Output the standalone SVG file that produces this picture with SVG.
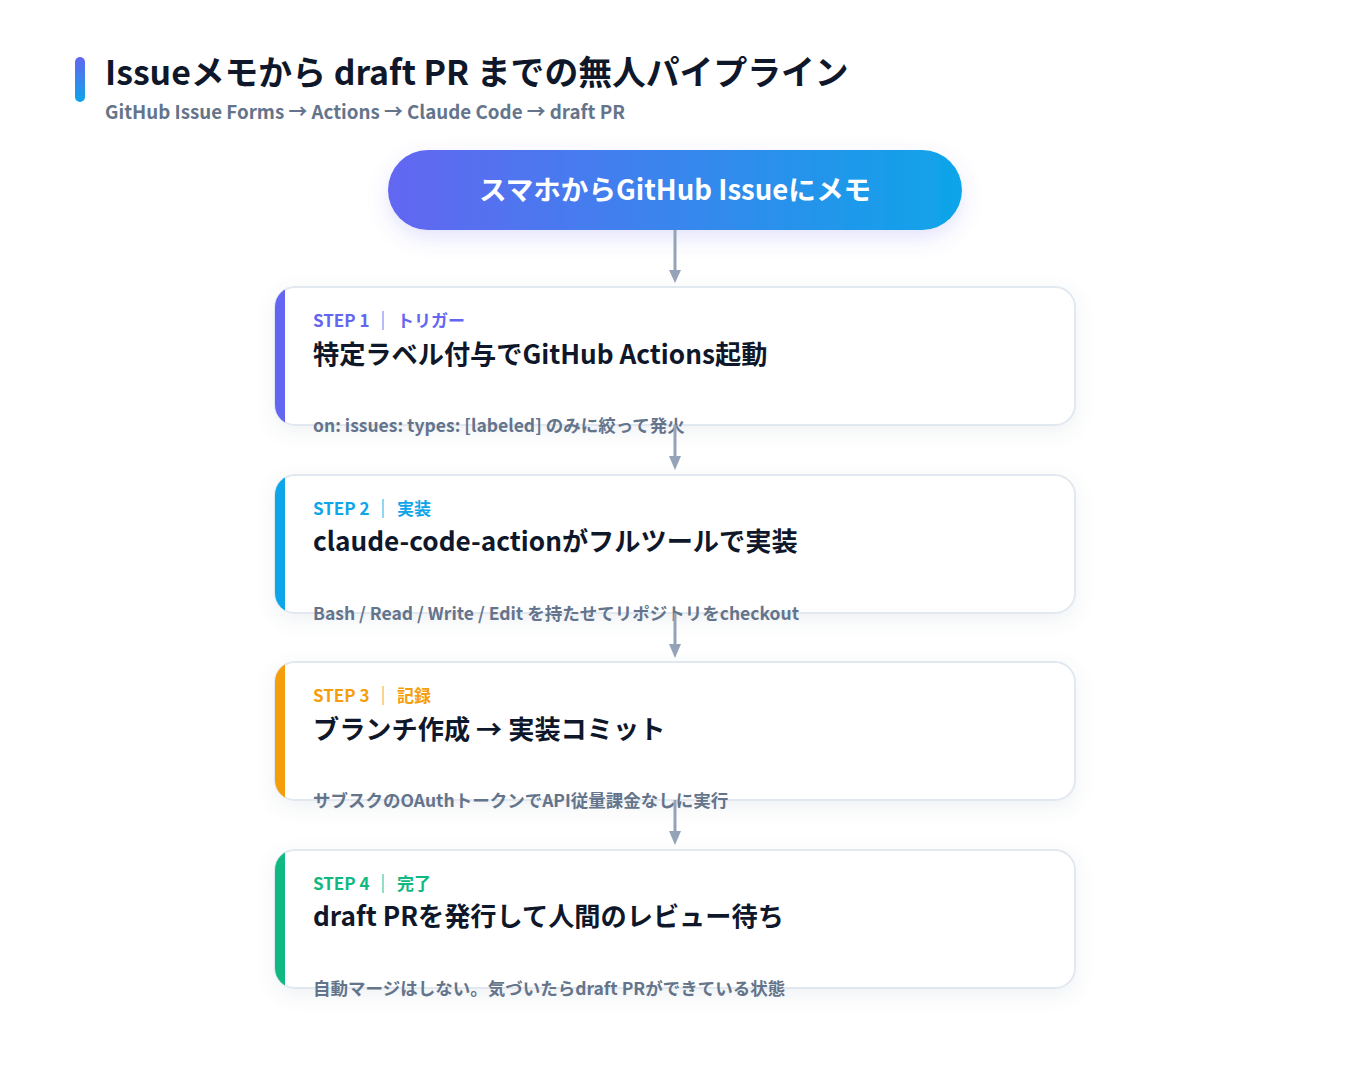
<svg xmlns="http://www.w3.org/2000/svg" width="1350" height="1087" viewBox="0 0 1350 1087">
<defs>
<linearGradient id="g" x1="0" y1="0" x2="1" y2="0"><stop offset="0" stop-color="#6366f1"/><stop offset="1" stop-color="#0ea5e9"/></linearGradient>
<linearGradient id="gv" x1="0" y1="0" x2="0" y2="1"><stop offset="0" stop-color="#6366f1"/><stop offset="1" stop-color="#0ea5e9"/></linearGradient>
<filter id="sh" x="-10%" y="-20%" width="120%" height="150%"><feDropShadow dx="0" dy="6" stdDeviation="9" flood-color="#64748b" flood-opacity="0.10"/></filter>
<filter id="sh2" x="-10%" y="-30%" width="120%" height="170%"><feDropShadow dx="0" dy="8" stdDeviation="10" flood-color="#6366f1" flood-opacity="0.18"/></filter>
<clipPath id="c1"><rect x="275" y="287" width="800" height="138" rx="20"/></clipPath>
<clipPath id="c2"><rect x="275" y="475" width="800" height="138" rx="20"/></clipPath>
<clipPath id="c3"><rect x="275" y="662" width="800" height="138" rx="20"/></clipPath>
<clipPath id="c4"><rect x="275" y="850" width="800" height="138" rx="20"/></clipPath>
</defs>
<style>
text{font-family:"Noto Sans CJK JP","Noto Sans",sans-serif;}
.card{fill:#ffffff;stroke:#e2e8f0;stroke-width:2;}
.step{font-size:17px;font-weight:700;}
.ttl{font-size:26.2px;font-weight:700;fill:#0f172a;}
.desc{font-size:17.5px;font-weight:600;fill:#64748b;}
.sep{stroke-width:1.5;}
.conn{stroke:#94a3b8;stroke-width:3;fill:none;}
.head{fill:#94a3b8;}
</style>
<rect width="1350" height="1087" fill="#ffffff"/>
<g id="header">
<rect x="75" y="57" width="10" height="45" rx="5" fill="url(#gv)"/>
<text x="105" y="85" font-size="33.8" font-weight="700" fill="#0f172a">Issueメモから draft PR までの無人パイプライン</text>
<text x="105" y="119" font-size="18.75" font-weight="600" fill="#64748b">GitHub Issue Forms → Actions → Claude Code → draft PR</text>
</g>
<g id="start">
<rect x="388" y="150" width="574" height="80" rx="40" fill="url(#g)" filter="url(#sh2)"/>
<text x="675" y="200" font-size="27.6" font-weight="700" fill="#ffffff" text-anchor="middle">スマホからGitHub Issueにメモ</text>
</g>
<g id="step1">
<rect class="card" x="275" y="287" width="800" height="138" rx="20" filter="url(#sh)"/>
<rect x="275" y="287" width="10" height="138" fill="#6366f1" clip-path="url(#c1)"/>
<text class="step" x="313" y="327" fill="#6366f1">STEP 1</text>
<line class="sep" x1="383" y1="311" x2="383" y2="330" stroke="#6366f1" opacity="0.6"/>
<text class="step" x="397" y="327" fill="#6366f1">トリガー</text>
<text class="ttl" x="313" y="364">特定ラベル付与でGitHub Actions起動</text>
<text class="desc" x="313" y="432">on: issues: types: [labeled] のみに絞って発火</text>
</g>
<g id="step2">
<rect class="card" x="275" y="475" width="800" height="138" rx="20" filter="url(#sh)"/>
<rect x="275" y="475" width="10" height="138" fill="#0ea5e9" clip-path="url(#c2)"/>
<text class="step" x="313" y="515" fill="#0ea5e9">STEP 2</text>
<line class="sep" x1="383" y1="499" x2="383" y2="518" stroke="#0ea5e9" opacity="0.6"/>
<text class="step" x="397" y="515" fill="#0ea5e9">実装</text>
<text class="ttl" x="313" y="551">claude-code-actionがフルツールで実装</text>
<text class="desc" x="313" y="620">Bash / Read / Write / Edit を持たせてリポジトリをcheckout</text>
</g>
<g id="step3">
<rect class="card" x="275" y="662" width="800" height="138" rx="20" filter="url(#sh)"/>
<rect x="275" y="662" width="10" height="138" fill="#f59e0b" clip-path="url(#c3)"/>
<text class="step" x="313" y="702" fill="#f59e0b">STEP 3</text>
<line class="sep" x1="383" y1="686" x2="383" y2="705" stroke="#f59e0b" opacity="0.6"/>
<text class="step" x="397" y="702" fill="#f59e0b">記録</text>
<text class="ttl" x="313" y="739">ブランチ作成 → 実装コミット</text>
<text class="desc" x="313" y="807">サブスクのOAuthトークンでAPI従量課金なしに実行</text>
</g>
<g id="step4">
<rect class="card" x="275" y="850" width="800" height="138" rx="20" filter="url(#sh)"/>
<rect x="275" y="850" width="10" height="138" fill="#10b981" clip-path="url(#c4)"/>
<text class="step" x="313" y="890" fill="#10b981">STEP 4</text>
<line class="sep" x1="383" y1="874" x2="383" y2="893" stroke="#10b981" opacity="0.6"/>
<text class="step" x="397" y="890" fill="#10b981">完了</text>
<text class="ttl" x="313" y="926">draft PRを発行して人間のレビュー待ち</text>
<text class="desc" x="313" y="995">自動マージはしない。気づいたらdraft PRができている状態</text>
</g>
<g id="connectors">
<line class="conn" x1="675" y1="230" x2="675" y2="272"/>
<path class="head" d="M669,270 L681,270 L675,283 z"/>
<line class="conn" x1="675" y1="425" x2="675" y2="458"/>
<path class="head" d="M669,456 L681,456 L675,470 z"/>
<line class="conn" x1="675" y1="613" x2="675" y2="646"/>
<path class="head" d="M669,644 L681,644 L675,658 z"/>
<line class="conn" x1="675" y1="800" x2="675" y2="833"/>
<path class="head" d="M669,831 L681,831 L675,845 z"/>
</g>
</svg>
